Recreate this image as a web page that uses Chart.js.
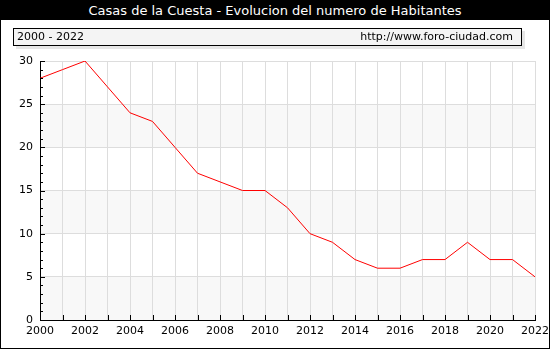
<!DOCTYPE html>
<html>
<head>
<meta charset="utf-8">
<script src="https://cdn.jsdelivr.net/npm/chart.js@4/dist/chart.umd.min.js"></script>
<style>
  body { margin: 0; background: #fff; }
  #wrap { position: relative; width: 550px; height: 349px; font-family: "DejaVu Sans", Verdana, sans-serif; }
  #chart { position: absolute; left: 0; top: 0; }
  #frame { position: absolute; left: 0; top: 0; width: 550px; height: 349px; box-sizing: border-box; border: 1px solid #000; pointer-events: none; }
  #title { position: absolute; left: 0; top: 0; width: 550px; height: 20px; background: #000; color: #fff; font-size: 13px; line-height: 21px; text-align: center; }
  #info { position: absolute; left: 13px; top: 28px; width: 507px; height: 16px; border: 1px solid #000; background: #f4f4f4; box-shadow: 3px 3px 0 #e6e6e6; font-size: 11px; line-height: 16px; }
  #info .l { position: absolute; left: 3px; }
  #info .r { position: absolute; right: 8px; }
</style>
</head>
<body>
<div id="wrap">
  <canvas id="chart" width="550" height="349"></canvas>
  <div id="title">Casas de la Cuesta - Evolucion del numero de Habitantes</div>
  <div id="info"><span class="l">2000 - 2022</span><span class="r">http://www.foro-ciudad.com</span></div>
  <div id="frame"></div>
</div>
<script>
const years = [2000, 2001, 2002, 2003, 2004, 2005, 2006, 2007, 2008, 2009, 2010, 2011,
               2012, 2013, 2014, 2015, 2016, 2017, 2018, 2019, 2020, 2021, 2022];
const habitantes = [28, 29, 30, 27, 24, 23, 20, 17, 16, 15, 15, 13,
                    10, 9, 7, 6, 6, 7, 7, 9, 7, 7, 5];
const yTicks = [0, 5, 10, 15, 20, 25, 30];
const bands = [[0, 5], [10, 15], [20, 25]];

// shaded bands behind the grid
const bandPlugin = {
  id: 'bands',
  beforeDraw(chart) {
    const { ctx, chartArea, scales } = chart;
    ctx.save();
    ctx.fillStyle = '#f8f8f8';
    bands.forEach(b => {
      const y1 = scales.y.getPixelForValue(b[1]);
      const y0 = scales.y.getPixelForValue(b[0]);
      ctx.fillRect(chartArea.left, y1, chartArea.right - chartArea.left, y0 - y1);
    });
    ctx.restore();
  }
};

// little tick marks drawn inside the plot
const innerTicks = {
  id: 'innerTicks',
  afterDraw(chart) {
    const { ctx, chartArea, scales } = chart;
    ctx.save();
    ctx.strokeStyle = '#000';
    ctx.lineWidth = 1;
    ctx.beginPath();
    years.forEach(yr => {
      const x = Math.round(scales.x.getPixelForValue(yr)) + 0.5;
      ctx.moveTo(x, chartArea.bottom);
      ctx.lineTo(x, chartArea.bottom - 5);
    });
    for (let v = 0; v <= 30; v++) {
      const y = Math.round(scales.y.getPixelForValue(v)) + 0.5;
      ctx.moveTo(chartArea.left, y);
      ctx.lineTo(chartArea.left + (v % 5 === 0 ? 5 : 3), y);
    }
    ctx.stroke();
    ctx.restore();
  }
};

const tickFont = { family: '"DejaVu Sans", Verdana, sans-serif', size: 11 };

new Chart(document.getElementById('chart'), {
  type: 'line',
  data: {
    datasets: [{
      data: years.map((yr, i) => ({ x: yr, y: habitantes[i] })),
      borderColor: '#ff0000',
      borderWidth: 1,
      pointRadius: 0,
      tension: 0,
      fill: false
    }]
  },
  options: {
    responsive: false,
    animation: false,
    layout: { padding: { left: 0, top: 61, right: 15, bottom: 0 } },
    plugins: { legend: { display: false }, tooltip: { enabled: false } },
    scales: {
      x: {
        type: 'linear',
        min: 2000,
        max: 2022,
        afterBuildTicks: scale => { scale.ticks = years.map(v => ({ value: v })); },
        afterFit: scale => {
          scale.height = 29;
          scale.paddingLeft = 0;
          scale.paddingRight = 0;
        },
        ticks: {
          autoSkip: false,
          maxRotation: 0,
          padding: 5,
          color: '#000',
          font: tickFont,
          callback: v => (v % 2 === 0 ? String(v) : '')
        },
        grid: { color: '#dddddd', drawTicks: false },
        border: { color: '#000' }
      },
      y: {
        min: 0,
        max: 30,
        afterBuildTicks: scale => { scale.ticks = yTicks.map(v => ({ value: v })); },
        afterFit: scale => {
          scale.width = 40;
          scale.paddingTop = 0;
          scale.paddingBottom = 0;
        },
        ticks: { padding: 7, color: '#000', font: tickFont },
        grid: { color: '#dddddd', drawTicks: false },
        border: { color: '#000' }
      }
    }
  },
  plugins: [bandPlugin, innerTicks]
});
</script>
</body>
</html>
